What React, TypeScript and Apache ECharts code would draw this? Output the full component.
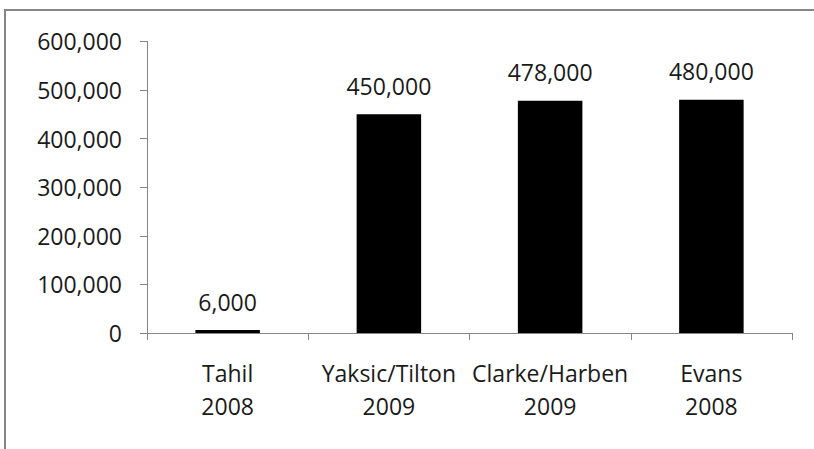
import React, { useEffect, useRef } from "react";
import * as echarts from "echarts";

const categories = ["Tahil\n2008", "Yaksic/Tilton\n2009", "Clarke/Harben\n2009", "Evans\n2008"];
const values = [6000, 450000, 478000, 480000];
const yTicks = { min: 0, max: 600000, interval: 100000 };

const fmt = (v: number) => Number(v).toLocaleString("en-US");

export default function App() {
  const ref = useRef<HTMLDivElement>(null);
  useEffect(() => {
    const chart = echarts.init(ref.current!, null, { renderer: "svg" });
    const font = "'Open Sans', sans-serif";
    chart.setOption({
      animation: false,
      backgroundColor: "#ffffff",
      graphic: [
        {
          type: "rect",
          shape: { x: 5, y: 10, width: 900, height: 600 },
          style: { fill: "none", stroke: "#868686", lineWidth: 2 },
          silent: true,
        },
      ],
      grid: { left: 147, top: 41.4, right: 22, bottom: 116 },
      xAxis: {
        type: "category",
        data: categories,
        axisLine: { lineStyle: { color: "#868686", width: 1 } },
        axisTick: { show: true, length: 7, lineStyle: { color: "#868686" } },
        axisLabel: {
          color: "#1a1a1a",
          fontFamily: font,
          fontSize: 23,
          lineHeight: 33,
          margin: 23,
          interval: 0,
        },
      },
      yAxis: {
        type: "value",
        min: yTicks.min,
        max: yTicks.max,
        interval: yTicks.interval,
        splitLine: { show: false },
        axisLine: { show: true, lineStyle: { color: "#868686", width: 1 } },
        axisTick: { show: true, length: 7, lineStyle: { color: "#868686" } },
        axisLabel: {
          color: "#1a1a1a",
          fontFamily: font,
          fontSize: 23,
          margin: 25,
          formatter: (v: number) => fmt(v),
        },
      },
      series: [
        {
          type: "bar",
          data: values,
          barWidth: "40%",
          itemStyle: { color: "#000000" },
          label: {
            show: true,
            position: "top",
            distance: 17,
            color: "#1a1a1a",
            fontFamily: font,
            fontSize: 23,
            formatter: (p: any) => fmt(p.value),
          },
        },
      ],
    });
    return () => chart.dispose();
  }, []);
  return (
    <div
      ref={ref}
      style={{ position: "fixed", left: 0, top: 0, width: 814, height: 449, background: "#fff" }}
    />
  );
}
